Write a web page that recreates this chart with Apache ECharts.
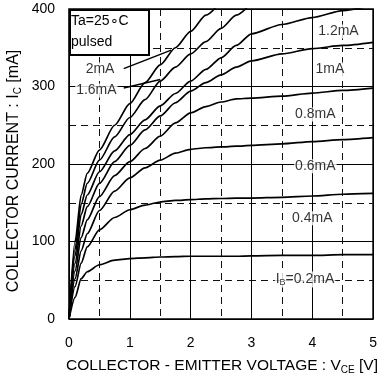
<!DOCTYPE html>
<html><head><meta charset="utf-8">
<script src="https://cdn.jsdelivr.net/npm/echarts@6/dist/echarts.min.js"></script>
<style>html,body{margin:0;padding:0;background:#fff}#c{width:380px;height:381px}</style>
</head><body><div id="c"></div><script>
const FONT = '"Liberation Sans", Arial, Helvetica, sans-serif';

// Collector-emitter voltage samples [V]
const vce = [0, 0.1, 0.2, 0.3, 0.5, 0.75, 1, 1.25, 1.5, 1.75, 2, 2.25, 2.5, 2.75, 3, 3.5, 4, 4.5, 5];

// Collector current [mA] for each base current
const ic_02 = [0, 28, 52, 61, 70, 76, 78, 79, 80, 80.5, 81, 81, 81, 81, 81.5, 82, 82, 83, 83];
const ic_04 = [0, 42, 72, 93, 115, 131, 141, 147, 151, 153, 154, 155, 155.5, 156, 156, 157, 158.7, 161, 162];
const ic_06 = [0, 52, 88, 110, 140, 165, 182, 195, 205, 214, 219, 221, 222, 223, 224, 226, 229, 231.5, 234];
const ic_08 = [0, 62, 105, 128, 158, 185, 203, 220, 236, 253, 266, 274, 280, 284, 285, 287.5, 291.5, 295, 298];
const ic_10 = [0, 72, 120, 145, 175, 203, 224, 244, 262, 279, 294, 305, 315, 325, 333, 342, 349, 353, 357];
const ic_12 = [0, 82, 135, 160, 190, 217, 238, 257, 275, 291, 307, 322, 337, 353, 368, 380, 389, 398, 405];
const ic_16 = [0, 90, 148, 175, 205, 235, 260, 283, 307, 325, 342, 358, 375, 392, 408];
const ic_20 = [0, 100, 160, 188, 218, 250, 278, 305, 328, 350, 371, 392, 410];

const curves = [ic_02, ic_04, ic_06, ic_08, ic_10, ic_12, ic_16, ic_20];

// Curve labels: [Vce, Ic, text]
const curveLabels = [
  [4.43, 371, '1.2mA'],
  [4.29, 322, '1mA'],
  [4.05, 264, '0.8mA'],
  [4.05, 197, '0.6mA'],
  [4.0, 130, '0.4mA'],
  [3.88, 51, '{m|I}{s|B}{m|=0.2mA}'],
  [0.51, 322, '2mA'],
  [0.45, 295, '1.6mA']
];
// Leader lines from the left-hand labels to their curves
const leader2mA = [[0.90, 323], [1.68, 347]];
const leader16mA = [[0.90, 298], [1.50, 309]];

const toPairs = (ys) => ys.map((y, i) => [vce[i], y]);

const series = curves.map((ys) => ({
  type: 'line',
  data: toPairs(ys),
  showSymbol: false,
  smooth: 0.25,
  smoothMonotone: 'x',
  clip: true,
  lineStyle: { color: '#000', width: 1.7 },
  silent: true,
  z: 3
}));

[leader2mA, leader16mA].forEach((pts) => series.push({
  type: 'line', data: pts, showSymbol: false, silent: true,
  lineStyle: { color: '#000', width: 1.5 }, z: 3
}));

series.push({
  type: 'scatter',
  data: curveLabels.map((d) => ({ value: [d[0], d[1]], name: d[2] })),
  symbolSize: 0,
  silent: true,
  z: 5,
  label: {
    show: true,
    position: 'inside',
    formatter: (p) => p.name,
    color: '#000',
    fontFamily: FONT,
    fontSize: 14,
    backgroundColor: '#fff',
    padding: [0, 1],
    rich: {
      m: { fontFamily: FONT, fontSize: 14, color: '#000', lineHeight: 16 },
      s: { fontFamily: FONT, fontSize: 9, color: '#000', lineHeight: 9, verticalAlign: 'bottom' }
    }
  }
});

const gridLine = { lineStyle: { color: '#000', width: 1 } };
const dashLine = { show: true, lineStyle: { color: '#111', width: 1, type: [7, 5] } };

const chart = echarts.init(document.getElementById('c'), null, { renderer: 'canvas' });
chart.setOption({
  animation: false,
  backgroundColor: '#fff',
  grid: { left: 69, right: 5, top: 9, bottom: 62, show: true, borderColor: '#000', borderWidth: 1.6, backgroundColor: 'transparent', z: 4 },
  xAxis: {
    type: 'value', min: 0, max: 5, interval: 1,
    axisLine: { show: false }, axisTick: { show: false },
    axisLabel: { color: '#000', fontFamily: FONT, fontSize: 14, margin: 17 },
    splitLine: gridLine,
    minorTick: { show: false, splitNumber: 2 },
    minorSplitLine: dashLine
  },
  yAxis: {
    type: 'value', min: 0, max: 400, interval: 100,
    axisLine: { show: false }, axisTick: { show: false },
    axisLabel: { color: '#000', fontFamily: FONT, fontSize: 14, margin: 14 },
    splitLine: gridLine,
    minorTick: { show: false, splitNumber: 2 },
    minorSplitLine: dashLine
  },
  graphic: [
    {
      type: 'rect', left: 69, top: 9, z: 10,
      shape: { width: 79, height: 45 },
      style: { fill: '#fff', stroke: '#000', lineWidth: 2 }
    },
    {
      type: 'text', left: 71, top: 14, z: 11,
      style: { text: 'Ta=25\u2218C', font: '14px ' + FONT, fill: '#000' }
    },
    {
      type: 'text', left: 71, top: 35, z: 11,
      style: { text: 'pulsed', font: '14px ' + FONT, fill: '#000' }
    },
    {
      type: 'text', x: 222, y: 366, z: 11,
      style: {
        text: '{m|COLLECTOR - EMITTER VOLTAGE : V}{s|CE}{m| [V]}',
        align: 'center', verticalAlign: 'middle',
        rich: {
          m: { fontFamily: FONT, fontSize: 15.5, fill: '#000', lineHeight: 18 },
          s: { fontFamily: FONT, fontSize: 10, fill: '#000', lineHeight: 11, verticalAlign: 'bottom' }
        }
      }
    },
    {
      type: 'text', x: 14, y: 171, rotation: Math.PI / 2, z: 11,
      style: {
        text: '{m|COLLECTOR CURRENT : I}{s|C}{m| [mA]}',
        align: 'center', verticalAlign: 'middle',
        rich: {
          m: { fontFamily: FONT, fontSize: 16, fill: '#000', lineHeight: 18 },
          s: { fontFamily: FONT, fontSize: 10, fill: '#000', lineHeight: 11, verticalAlign: 'bottom' }
        }
      }
    }
  ],
  series: series
});
</script></body></html>
